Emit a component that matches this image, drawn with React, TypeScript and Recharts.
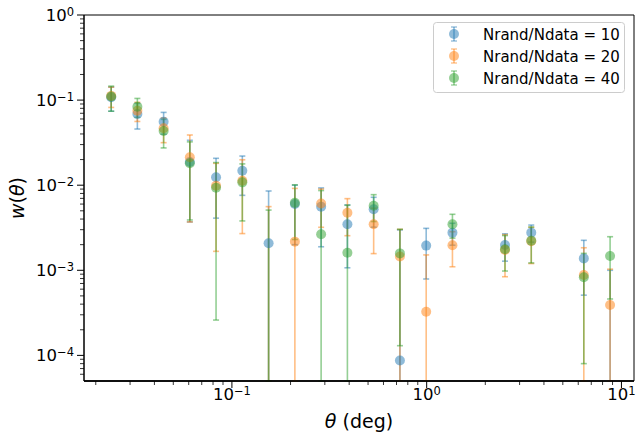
import React from 'react';
import { ScatterChart, Scatter, XAxis, YAxis, ErrorBar, Legend, Label, ReferenceArea, ReferenceLine } from 'recharts';

const font = 'DejaVu Sans';

// angular bins (deg)
const theta = [0.024, 0.0327, 0.0446, 0.0608, 0.0829, 0.1131, 0.1543, 0.2105, 0.2871, 0.3917,
  0.5343, 0.7289, 0.9942, 1.356, 1.85, 2.524, 3.443, 4.698, 6.409, 8.744];

// w(theta) and errors per Nrand/Ndata ratio (null = nothing drawn, negatives fall off the log axis)
const w10 = [0.108, 0.0687, 0.0557, 0.0187, 0.0124, 0.0148, 0.00208, 0.006, 0.00559, 0.00347,
  0.00521, 0.000087, 0.00195, 0.00277, null, 0.00198, 0.00277, null, 0.00138, -0.0005];
const err10 = [0.034, 0.023, 0.016, 0.015, 0.0083, 0.0072, 0.00647, 0.004, 0.0037, 0.0024,
  0.002, 0.0029, 0.00116, 0.0008, null, 0.0007, 0.00063, null, 0.00087, 0.0015];

const w20 = [0.112, 0.0751, 0.0466, 0.0213, 0.00987, 0.0113, -0.001, 0.00217, 0.0061, 0.00475,
  0.00347, 0.00145, 0.000326, 0.00197, null, 0.00173, 0.0022, null, 0.00088, 0.000391];
const err20 = [0.03, 0.019, 0.015, 0.0176, 0.0082, 0.0086, 0.0066, 0.007, 0.0029, 0.0022,
  0.0019, 0.00158, 0.00119, 0.00087, null, 0.00089, 0.001, null, 0.00096, 0.00064];

const w40 = [0.11, 0.0836, 0.0434, 0.0181, 0.00935, 0.0108, -0.0008, 0.0062, 0.00265, 0.00161,
  0.00574, 0.00158, null, 0.00347, null, 0.00177, 0.00222, null, 0.00083, 0.00147];
const err40 = [0.036, 0.021, 0.016, 0.0142, 0.00909, 0.007, 0.0059, 0.0039, 0.006, 0.0042,
  0.002, 0.00145, null, 0.00108, null, 0.00079, 0.001, null, 0.00075, 0.00101];

const seriesNames = ['Nrand/Ndata = 10', 'Nrand/Ndata = 20', 'Nrand/Ndata = 40'];
const colors = ['#1f77b4', '#ff7f0e', '#2ca02c'];

const xDomain = [0.0174, 11.6];
const yDomain = [5e-5, 1];
const xMajor = [0.1, 1, 10];
const xExp = ['\u22121', '0', '1'];
const xMinor = [0.02, 0.03, 0.04, 0.05, 0.06, 0.07, 0.08, 0.09, 0.2, 0.3, 0.4, 0.5, 0.6, 0.7, 0.8, 0.9,
  2, 3, 4, 5, 6, 7, 8, 9];
const yMajor = [1e-4, 1e-3, 1e-2, 1e-1, 1];
const yExp = ['\u22124', '\u22123', '\u22122', '\u22121', '0'];
const yMinor = [6e-5, 7e-5, 8e-5, 9e-5, 2e-4, 3e-4, 4e-4, 5e-4, 6e-4, 7e-4, 8e-4, 9e-4,
  0.002, 0.003, 0.004, 0.005, 0.006, 0.007, 0.008, 0.009, 0.02, 0.03, 0.04, 0.05, 0.06, 0.07, 0.08, 0.09,
  0.2, 0.3, 0.4, 0.5, 0.6, 0.7, 0.8, 0.9];

// bars whose lower end falls off the log axis stop at the bottom of the plot
const yMin = yDomain[0];

const buildRows = (w: (number | null)[], e: (number | null)[]) => {
  const rows: any[] = [];
  theta.forEach((t, i) => {
    const v = w[i];
    const s = e[i];
    if (v == null || s == null) return;
    if (v > 0) rows.push({ x: t, y: v, err: [v - s > yMin ? s : v - yMin, s] });
    else if (v + s > yMin) rows.push({ x: t, y: yMin, err: [0, v + s - yMin], hidden: true });
  });
  return rows;
};

const series = [
  { name: seriesNames[0], color: colors[0], data: buildRows(w10, err10) },
  { name: seriesNames[1], color: colors[1], data: buildRows(w20, err20) },
  { name: seriesNames[2], color: colors[2], data: buildRows(w40, err40) },
];

const XTick = (props: any) => {
  const { x, y, payload } = props;
  const i = xMajor.indexOf(payload.value);
  const major = i >= 0;
  return (
    <g>
      <line x1={x} y1={y} x2={x} y2={y + (major ? 7 : 4)} stroke="#000" strokeWidth={major ? 1 : 0.8} />
      {major && (
        <text x={x} y={y + 19} textAnchor="middle" fontSize={16.5} fontFamily={font} fill="#000">
          10<tspan dy={-5.5} fontSize={11.5}>{xExp[i]}</tspan>
        </text>
      )}
    </g>
  );
};

const YTick = (props: any) => {
  const { x, y, payload } = props;
  const i = yMajor.indexOf(payload.value);
  const major = i >= 0;
  return (
    <g>
      <line x1={x - (major ? 7 : 4)} y1={y} x2={x} y2={y} stroke="#000" strokeWidth={major ? 1 : 0.8} />
      {major && (
        <text x={x - 10} y={y + 6} textAnchor="end" fontSize={16.5} fontFamily={font} fill="#000">
          10<tspan dy={-5.5} fontSize={11.5}>{yExp[i]}</tspan>
        </text>
      )}
    </g>
  );
};

const XLabel = (props: any) => {
  const vb = props.viewBox;
  return (
    <text x={vb.x + vb.width / 2} y={vb.y + 47} textAnchor="middle" fontSize={19} fontFamily={font} fill="#000">
      <tspan fontStyle="italic">θ</tspan> (deg)
    </text>
  );
};

const YLabel = (props: any) => {
  const vb = props.viewBox;
  const cx = vb.x + 24;
  const cy = vb.y + vb.height / 2;
  return (
    <text x={cx} y={cy} transform={`rotate(-90, ${cx}, ${cy})`} textAnchor="middle" fontSize={19} fontFamily={font} fill="#000">
      <tspan fontStyle="italic">w</tspan>(<tspan fontStyle="italic">θ</tspan>)
    </text>
  );
};

const renderLegend = () => (
  <svg width={193} height={72} style={{ display: 'block' }}>
    <rect x={0.5} y={0.5} width={191} height={70} rx={3} fill="#fff" fillOpacity={0.8} stroke="#cccccc" />
    {series.map((s, i) => {
      const cy = 12 + i * 22;
      return (
        <g key={s.name}>
          <line x1={21} y1={cy - 7} x2={21} y2={cy + 7} stroke={s.color} strokeOpacity={0.5} strokeWidth={1.6} />
          <line x1={18} y1={cy - 7} x2={24} y2={cy - 7} stroke={s.color} strokeOpacity={0.5} strokeWidth={1.3} />
          <line x1={18} y1={cy + 7} x2={24} y2={cy + 7} stroke={s.color} strokeOpacity={0.5} strokeWidth={1.3} />
          <circle cx={21} cy={cy} r={5} fill={s.color} fillOpacity={0.5} />
          <text x={50} y={cy + 5.5} fontSize={15} fontFamily={font} fill="#000">{s.name}</text>
        </g>
      );
    })}
  </svg>
);

export default function App() {
  return (
    <div style={{ position: 'absolute', left: 0, top: 0 }}>
      <ScatterChart width={637} height={437} margin={{ top: 15, right: 3, bottom: 0, left: 0 }}>
        <XAxis
          dataKey="x" type="number" scale="log" domain={xDomain} allowDataOverflow
          ticks={[...xMajor, ...xMinor]} interval={0} tickSize={0} tickMargin={0} tickLine={false}
          tick={XTick} axisLine={{ stroke: '#000', strokeWidth: 1 }} height={56}
        >
          <Label content={XLabel} />
        </XAxis>
        <YAxis
          dataKey="y" type="number" scale="log" domain={yDomain} allowDataOverflow
          ticks={[...yMajor, ...yMinor]} interval={0} tickSize={0} tickMargin={0} tickLine={false}
          tick={YTick} axisLine={{ stroke: '#000', strokeWidth: 1 }} width={84}
        >
          <Label content={YLabel} />
        </YAxis>
        <ReferenceArea
          x1={xDomain[0]} x2={xDomain[1]} y1={yDomain[0]} y2={yDomain[1]}
          fill="none" fillOpacity={0} stroke="#000" strokeWidth={1} ifOverflow="visible"
        />
        {series.map((s) => (
          <Scatter
            key={s.name}
            name={s.name}
            data={s.data}
            isAnimationActive={false}
            shape={(p: any) =>
              p.payload && p.payload.hidden ? <g /> : <circle cx={p.cx} cy={p.cy} r={5} fill={s.color} fillOpacity={0.5} />
            }
          >
            <ErrorBar dataKey="err" direction="y" width={3} stroke={s.color} strokeOpacity={0.5} strokeWidth={1.6} isAnimationActive={false} />
          </Scatter>
        ))}
        <ReferenceLine y={yMin} stroke="#000" strokeWidth={1.6} ifOverflow="visible" />
        <Legend
          layout="vertical" align="center" verticalAlign="middle"
          content={renderLegend}
          wrapperStyle={{ left: 433, top: 22, width: 193, height: 72 }}
        />
      </ScatterChart>
    </div>
  );
}
